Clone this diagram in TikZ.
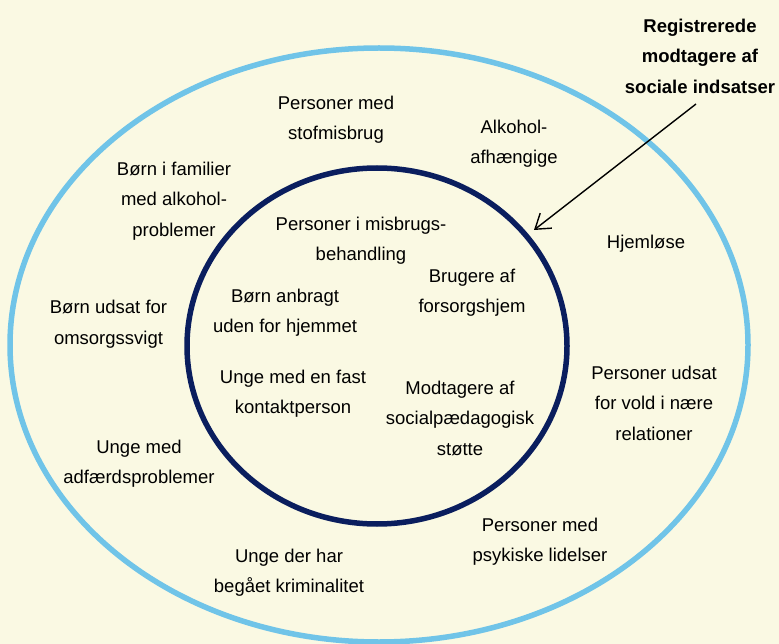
\documentclass[tikz,border=0pt]{standalone}
\usepackage{fontspec}
\setmainfont{Liberation Sans}
\usetikzlibrary{arrows.meta}
\definecolor{bg}{RGB}{250,249,227}
\definecolor{outerblue}{RGB}{112,196,232}
\definecolor{navy}{RGB}{10,30,94}
\begin{document}
\begin{tikzpicture}[x=1pt,y=-1pt,
  lbl/.style={align=center, inner sep=0pt, anchor=north, text=black,
    font=\fontsize{18.5}{30.5}\selectfont},
  titlelbl/.style={lbl, font=\fontsize{18.5}{30.75}\selectfont\bfseries},
  ring/.style={line width=5.5pt}]
\fill[bg] (0,0) rectangle (779,644);
\useasboundingbox (0,0) rectangle (779,644);
\draw[ring, outerblue] (379,345) ellipse [x radius=369pt, y radius=297pt];
\draw[ring, navy] (377,346) ellipse [x radius=190pt, y radius=178pt];

% north = first baseline - 21.35 (strut height)
\node[titlelbl] (title) at (700,10.5) {\strut Registrerede\\modtagere af\\sociale indsatser};
\node[lbl] (stof) at (336,87.7) {\strut Personer med\\stofmisbrug};
\node[lbl] (alko) at (514,111.7) {\strut Alkohol-\\afhængige};
\node[lbl] (bfam) at (174,153.7) {\strut Børn i familier\\med alkohol-\\problemer};
\node[lbl] (misb) at (361,208.7) {\strut Personer i misbrugs-\\behandling};
\node[lbl] (hjem) at (646,226.7) {\strut Hjemløse};
\node[lbl] (fors) at (472,260.7) {\strut Brugere af\\forsorgshjem};
\node[lbl] (anbr) at (285,280.7) {\strut Børn anbragt\\uden for hjemmet};
\node[lbl] (omso) at (108.5,292.2) {\strut Børn udsat for\\omsorgssvigt};
\node[lbl] (kont) at (293,361.7) {\strut Unge med en fast\\kontaktperson};
\node[lbl] (spd) at (460,372.7) {\strut Modtagere af\\socialpædagogisk\\støtte};
\node[lbl] (vold) at (654,357.7) {\strut Personer udsat\\for vold i nære\\relationer};
\node[lbl] (adf) at (139,431.7) {\strut Unge med\\adfærdsproblemer};
\node[lbl] (psyk) at (540,509.7) {\strut Personer med\\psykiske lidelser};
\node[lbl] (krim) at (289,540.7) {\strut Unge der har\\begået kriminalitet};

\coordinate (arrstart) at (696,104);
\coordinate (arrend) at (534,230);
\draw[line width=1.4pt, -{Straight Barb[length=14pt,width=19pt]}] (arrstart) -- (arrend);
\end{tikzpicture}
\end{document}
